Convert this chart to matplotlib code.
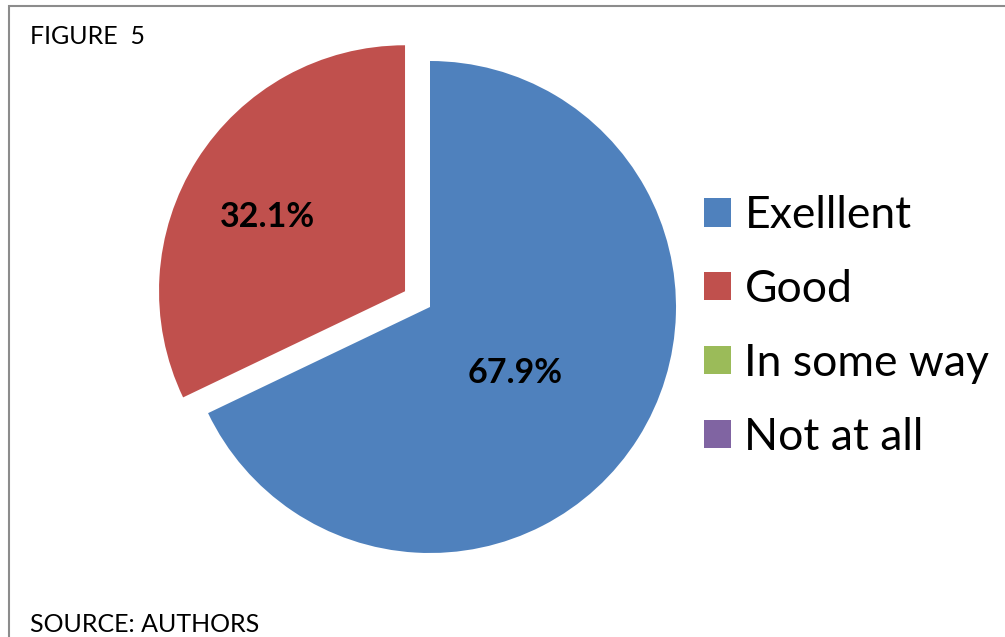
import numpy as np
import matplotlib.pyplot as plt
from matplotlib.patches import Rectangle

# data
categories = ['Exelllent', 'Good', 'In some way', 'Not at all']
shares = [67.9, 32.1, 0.0, 0.0]
colors = ['#4F81BD', '#C0504D', '#9BBB59', '#8064A2']
explode = [0.0, 0.12, 0.0, 0.0]
label_dist = [0.43, 0.64, 0.5, 0.5]

plt.rcParams['font.family'] = ['Lato', 'DejaVu Sans']

W, H = 1005, 637
fig = plt.figure(figsize=(W / 100, H / 100), dpi=100, facecolor='white')

# frame (only top and left edges visible in the crop)
fig.patches.append(Rectangle((9 / W, -0.1), 1.2, 1.1 - 5.5 / H, transform=fig.transFigure,
                             fill=False, edgecolor='#8c8c8c', linewidth=1.5))

# pie axes: centre (430, 307) px, radius 246 px
R = 246
side = 2.5 * R
ax = fig.add_axes([(430 - side / 2) / W, (H - 307 - side / 2) / H, side / W, side / H])

wedges, _ = ax.pie(shares, colors=colors, explode=explode, startangle=90,
                   counterclock=False, radius=1.0,
                   wedgeprops=dict(linewidth=0))
ax.set_xlim(-1.25, 1.25)
ax.set_ylim(-1.25, 1.25)
ax.set_aspect('equal')
ax.axis('off')

# percentage labels
total = sum(shares)
theta = 90.0
for w, val, d, ex in zip(wedges, shares, label_dist, explode):
    span = 360.0 * val / total
    mid = np.deg2rad(theta - span / 2)
    theta -= span
    if val <= 0:
        continue
    r = d + ex
    ax.annotate(f'{val:.1f}%', xy=(r * np.cos(mid), r * np.sin(mid)),
                xytext=(-3, -7), textcoords='offset points', ha='center', va='center',
                fontsize=24.5, fontweight='bold', color='black')

leg = fig.legend(wedges, categories, loc='upper left', bbox_to_anchor=(704 / W, 1 - 195 / H),
                 frameon=False, fontsize=32, handlelength=0.61, handleheight=0.61,
                 handletextpad=0.3, labelspacing=0.74, borderpad=0, borderaxespad=0)

fig.text(30 / W, 1 - 36 / H, 'FIGURE  5', fontsize=18, va='center', ha='left')
fig.text(30 / W, 1 - 624 / H, 'SOURCE: AUTHORS', fontsize=18, va='center', ha='left')

fig.savefig('out.png', dpi=100, facecolor='white')
